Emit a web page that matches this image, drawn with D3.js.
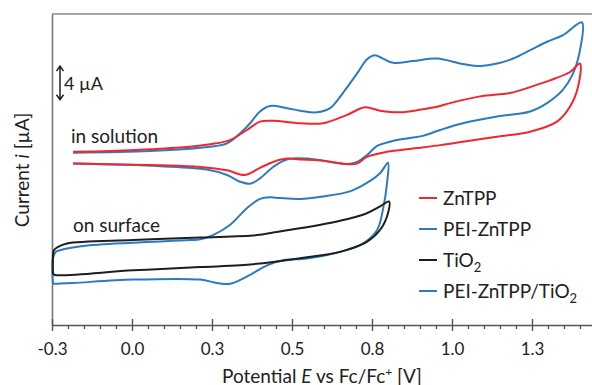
<!DOCTYPE html>
<html><head><meta charset="utf-8">
<script src="https://cdn.jsdelivr.net/npm/d3@7"></script>
<style>
html,body{margin:0;padding:0;background:#fff;}
svg{display:block;}
text{font-family:Lato,"Open Sans",sans-serif;fill:#222;}
</style></head>
<body><svg id="c" width="592" height="385"></svg>
<script>
// ---- data (E in V vs Fc/Fc+, i in µA, curves offset as plotted) ----
const majorTicks = [-0.25, 0, 0.25, 0.5, 0.75, 1.0, 1.25];
const majorTickLabels = ["-0.3", "0.0", "0.3", "0.5", "0.8", "1.0", "1.3"];
const seriesNames = ["ZnTPP", "PEI-ZnTPP", "TiO2", "PEI-ZnTPP/TiO2"];

const znTPP = [
  [-0.184,2.1],[-0.069,2.2],[0.056,2.4],[0.181,2.7],[0.244,3.0],[0.306,3.5],[0.359,4.7],[0.400,5.7],
  [0.441,5.8],[0.525,5.5],[0.597,5.5],[0.672,6.5],[0.728,7.4],[0.775,7.0],[0.838,6.8],[0.900,7.1],
  [0.963,7.55],[0.994,7.9],[1.088,8.7],[1.181,9.1],[1.244,9.8],[1.306,10.6],[1.369,11.6],[1.400,12.6],
  [1.394,9.85],[1.369,7.5],[1.328,5.7],[1.244,4.5],[1.141,3.9],[1.034,3.3],[0.963,2.9],[0.878,2.5],
  [0.797,2.1],[0.734,1.5],[0.703,0.7],[0.672,0.65],[0.588,1.1],[0.525,1.2],[0.484,1.3],[0.441,0.9],
  [0.400,0.2],[0.353,-0.65],[0.297,-0.1],[0.213,0.3],[0.088,0.5],[-0.184,0.7]
];
const peiZnTPP = [
  [-0.184,2.0],[0.056,2.2],[0.244,2.7],[0.297,3.1],[0.338,4.3],[0.369,5.5],[0.400,6.9],[0.431,7.55],
  [0.484,7.3],[0.525,7.0],[0.578,6.8],[0.619,7.3],[0.659,9.1],[0.703,11.4],[0.734,13.1],[0.759,13.6],
  [0.784,13.2],[0.816,12.7],[0.878,12.9],[0.953,13.2],[1.034,12.55],[1.088,12.3],[1.141,12.6],[1.191,13.2],
  [1.244,14.2],[1.297,15.2],[1.347,16.0],[1.406,17.5],
  [1.400,14.2],[1.378,11.4],[1.347,9.5],[1.297,7.9],[1.244,6.9],[1.141,6.3],[1.034,5.5],[0.963,4.7],
  [0.909,4.0],[0.859,3.7],[0.806,3.3],[0.766,2.8],[0.734,1.7],[0.703,0.9],[0.672,0.65],[0.619,0.9],
  [0.547,1.3],[0.484,1.2],[0.441,0.3],[0.400,-1.05],[0.369,-1.7],[0.338,-1.45],[0.297,-0.65],[0.234,0.0],
  [0.088,0.4],[-0.184,0.7]
];
const tio2 = [
  [-0.247,-12.4],[-0.247,-10.3],[-0.244,-9.6],[-0.231,-9.2],[-0.203,-8.8],[0.003,-8.4],[0.213,-8.1],
  [0.391,-7.8],[0.441,-7.5],[0.525,-7.0],[0.650,-6.1],[0.734,-5.2],[0.775,-4.4],[0.803,-3.8],
  [0.800,-5.2],[0.775,-7.2],[0.734,-8.6],[0.650,-9.8],[0.547,-10.45],[0.441,-11.0],[0.338,-11.4],
  [0.213,-11.6],[0.003,-12.0],[-0.241,-12.55],[-0.247,-12.4]
];
const peiZnTPPTiO2 = [
  [-0.247,-13.6],[-0.247,-10.6],[-0.238,-9.8],[-0.225,-9.6],[-0.153,-9.1],[0.003,-8.7],[0.181,-8.4],
  [0.213,-8.3],[0.253,-7.8],[0.306,-6.6],[0.359,-4.6],[0.400,-3.5],[0.431,-3.3],[0.463,-3.4],
  [0.525,-3.5],[0.597,-3.2],[0.681,-2.6],[0.734,-1.6],[0.775,-0.45],[0.800,0.8],
  [0.797,-1.6],[0.784,-4.8],[0.766,-7.2],[0.722,-8.8],[0.650,-9.8],[0.547,-10.6],[0.472,-10.8],
  [0.422,-11.4],[0.359,-12.75],[0.306,-13.6],[0.266,-13.5],[0.213,-13.1],[0.003,-13.1],[-0.184,-13.5],
  [-0.241,-13.6],[-0.247,-13.6]
];
const scaleBar = [12.3, 8.3]; // top and bottom of the 4 µA bar, in µA units

// ---- layout ----
const svg = d3.select("#c");
const x = d3.scaleLinear().domain([-0.25, 1.5]).range([52, 612]);
const y = d3.scaleLinear().domain([-18.5, 18.5]).range([325, 14]);
const colors = ["#f0282d", "#2b7bc4", "#1e1e1e", "#2b7bc4"];

// top border
svg.append("line").attr("x1", 52).attr("x2", 592).attr("y1", 14).attr("y2", 14)
  .attr("stroke", "#8a8a8a").attr("stroke-width", 1.6);

// left axis line
const gy = svg.append("g").attr("transform", "translate(52,0)")
  .call(d3.axisLeft(y).tickValues([]).tickSizeOuter(0));
gy.select(".domain").attr("stroke", "#7a7a7a").attr("stroke-width", 1.6);

// x axis: minor ticks
const minor = d3.range(-0.25, 1.45, 0.05).map(v => Math.round(v * 100) / 100)
  .filter(v => !majorTicks.some(m => Math.abs(m - v) < 1e-6));
const gMinor = svg.append("g").attr("transform", "translate(0,325)")
  .call(d3.axisBottom(x).tickValues(minor).tickSize(4).tickSizeOuter(0).tickFormat(""));
gMinor.select(".domain").remove();
gMinor.selectAll(".tick line").attr("stroke", "#555").attr("stroke-width", 1.3);

// x axis: major ticks
const gx = svg.append("g").attr("transform", "translate(0,325)")
  .call(d3.axisBottom(x).tickValues(majorTicks).tickSizeOuter(0)
    .tickFormat((d, i) => majorTickLabels[i]));
gx.select(".domain").attr("stroke", "#555").attr("stroke-width", 1.6);
gx.selectAll(".tick line").attr("y1", -6).attr("y2", 6).attr("stroke", "#555").attr("stroke-width", 1.4);
gx.selectAll(".tick text").attr("y", 18).attr("dy", "0.71em")
  .style("font-family", "Lato, 'Open Sans', sans-serif").style("font-size", "17px").attr("fill", "#222");

// axis titles
const xt = svg.append("text").attr("x", 322).attr("y", 383).attr("text-anchor", "middle")
  .style("font-size", "19px");
xt.append("tspan").text("Potential ");
xt.append("tspan").style("font-style", "italic").text("E");
xt.append("tspan").text(" vs Fc/Fc");
xt.append("tspan").attr("dy", -7).style("font-size", "12px").text("+");
xt.append("tspan").attr("dy", 7).text(" [V]");

const yt = svg.append("text").attr("transform", "translate(29,170) rotate(-90)")
  .attr("text-anchor", "middle").style("font-size", "19px");
yt.append("tspan").text("Current ");
yt.append("tspan").style("font-style", "italic").text("i");
yt.append("tspan").text("  [µA]");

// curves
const line = d3.line().x(d => x(d[0])).y(d => y(d[1])).curve(d3.curveCatmullRom.alpha(0.5));
const all = [znTPP, peiZnTPP, tio2, peiZnTPPTiO2];
const drawOrder = [3, 2, 1, 0];
drawOrder.forEach(k => {
  svg.append("path").datum(all[k]).attr("d", line).attr("fill", "none")
    .attr("stroke", colors[k]).attr("stroke-width", 2).attr("stroke-linejoin", "round");
});

// annotations
svg.append("text").attr("x", 71).attr("y", 143).style("font-size", "19px").text("in solution");
svg.append("text").attr("x", 73).attr("y", 232).style("font-size", "19px").text("on surface");

// scale bar
const sbx = 60, sTop = y(scaleBar[0]), sBot = y(scaleBar[1]);
svg.append("path").attr("d",
  `M${sbx},${sTop} L${sbx},${sBot} M${sbx-3.5},${sTop+5} L${sbx},${sTop} L${sbx+3.5},${sTop+5} M${sbx-3.5},${sBot-5} L${sbx},${sBot} L${sbx+3.5},${sBot-5}`)
  .attr("fill", "none").attr("stroke", "#222").attr("stroke-width", 1.5);
svg.append("text").attr("x", 64).attr("y", 90).style("font-size", "18px").text("4 µA");

// legend
const lg = svg.append("g");
seriesNames.forEach((nm, k) => {
  const yy = 198 + k * 31;
  lg.append("line").attr("x1", 419).attr("x2", 437).attr("y1", yy).attr("y2", yy)
    .attr("stroke", colors[k]).attr("stroke-width", 2);
  const t = lg.append("text").attr("x", 443).attr("y", yy + 7).style("font-size", "19px");
  if (nm.endsWith("TiO2")) {
    t.append("tspan").text(nm.slice(0, -1));
    t.append("tspan").attr("dy", 5).style("font-size", "13px").text("2");
  } else t.text(nm);
});
</script></body></html>
